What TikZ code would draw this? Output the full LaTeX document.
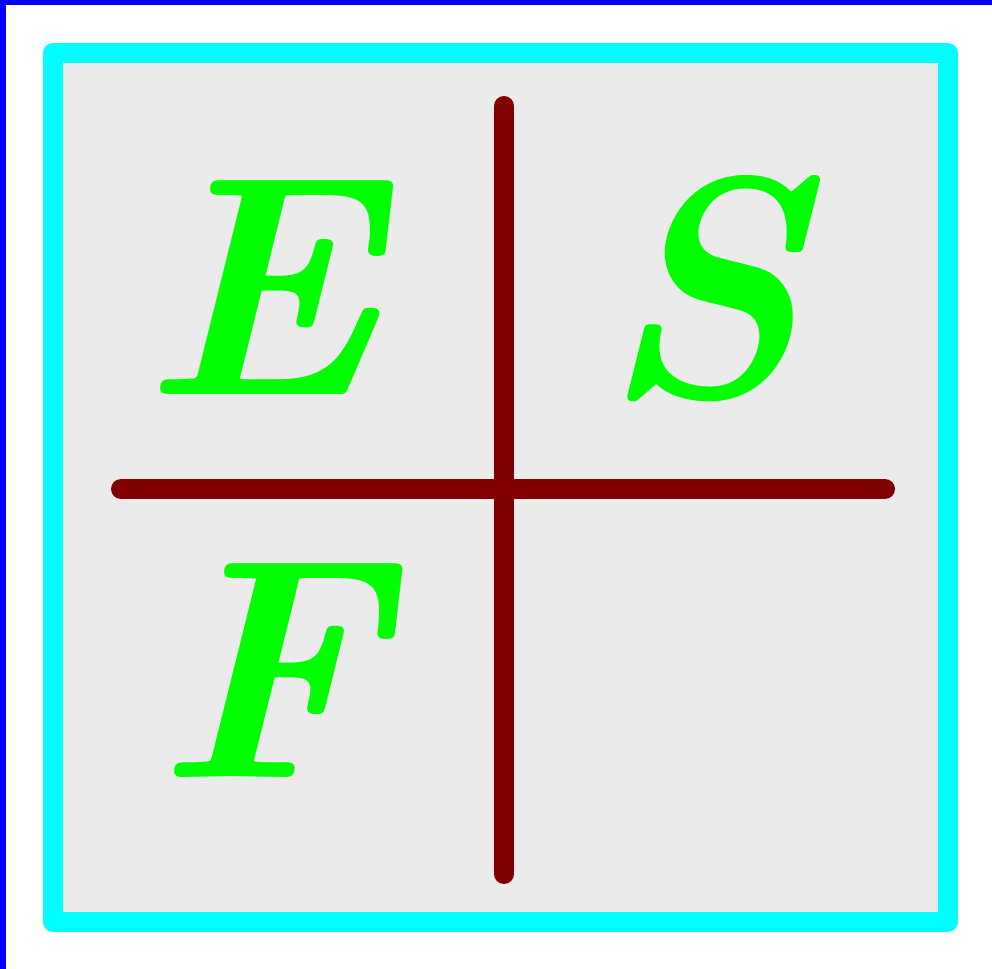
\documentclass[tikz,border=0pt]{standalone}
\usepackage{fontspec}
\usetikzlibrary{positioning}

\definecolor{boxfill}{HTML}{EBEBEB}
\definecolor{boxedge}{HTML}{00FFFF}
\definecolor{maroon}{HTML}{800000}
\definecolor{letter}{HTML}{00FF00}
\definecolor{edgeblue}{HTML}{0000FF}

\begin{document}
\begin{tikzpicture}[x=0.02cm, y=-0.02cm,
  every node/.style={text=letter, inner sep=0pt, anchor=base,
    font=\fontsize{179}{200}\selectfont\bfseries\itshape},
  frame/.style={draw=boxedge, fill=boxfill, line width=0.4cm, line join=round},
  cross/.style={draw=maroon, line width=0.4cm, line cap=round}
]
\useasboundingbox (0,0) rectangle (992,969);

% ---- outer edge (left and top only) ----
\draw[edgeblue, line width=0.12cm] (3,969) -- (3,2.5) -- (992,2.5);

% ---- box ----
\path[frame] (53,53) rectangle (948,922);

% ---- cross ----
\coordinate (top)    at (504,106);
\coordinate (bottom) at (504,874);
\coordinate (left)   at (121,489);
\coordinate (right)  at (885,489);
\draw[cross] (top) -- (bottom);
\draw[cross] (left) -- (right);

% ---- letters ----
\node (E) at (260,395) {E};
\node (S) at (702,397) {S};
\node (F) at (269,778) {F};
\end{tikzpicture}
\end{document}
